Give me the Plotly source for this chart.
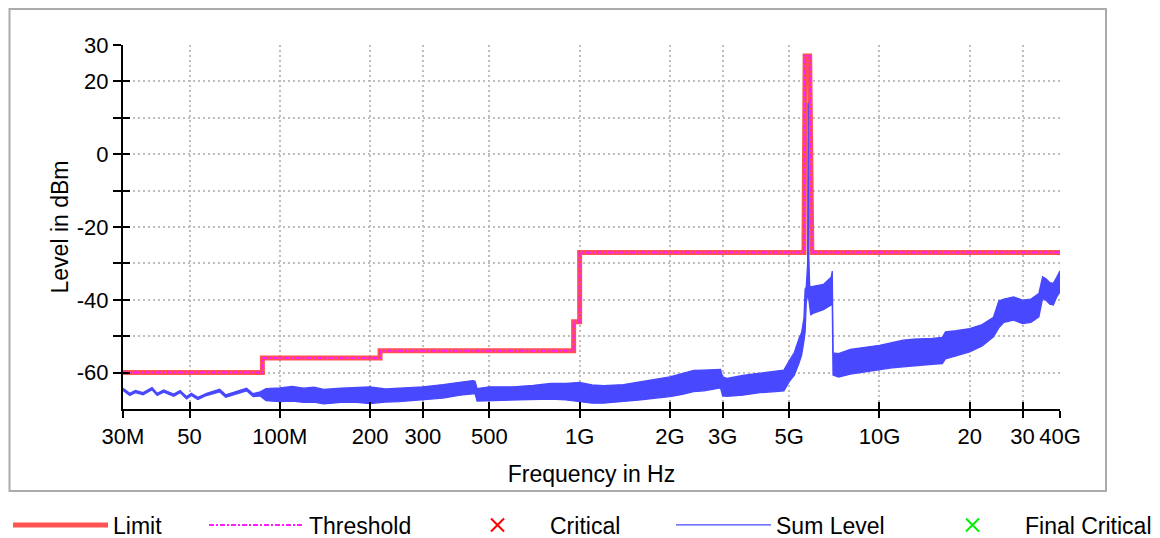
import math
import plotly.graph_objects as go

# ---------------- data ----------------
LIMIT_FREQ_MHZ = [30, 87.5, 87.5, 216, 216, 955, 955, 1000, 1000, 5600, 5650, 5850, 5950, 40000]
LIMIT_DBM = [-60, -60, -56, -56, -54, -54, -46, -46, -27, -27, 27, 27, -27, -27]
THRESHOLD_DBM = [-60, -60, -56, -56, -54, -54, -46, -46, -27, -27, 27, 27, -27, -27]

SUM_FREQ_MHZ = [30, 31.6, 33, 35, 37.5, 39, 41, 44.3, 46.5, 48.9, 50.7, 53.3, 57, 63, 66, 71.6, 77.5,
                81.5, 86, 90, 100, 110, 120, 130, 140, 160, 180, 200, 225, 250, 300, 350, 400, 440,
                448, 455, 500, 600, 700, 800, 900, 1000, 1100, 1200, 1400, 1600, 1800, 2000, 2200,
                2400, 2600, 2800, 2950, 3000, 3100, 3500, 4000, 4500, 4800, 5000, 5200, 5400, 5500,
                5600, 5650, 5700, 5760, 5780, 5800, 5850, 5900, 6000, 6500, 6900, 6960, 7000, 7300,
                8000, 9000, 10000, 11000, 12000, 13000, 14000, 15000, 16200, 16600, 18000, 20000,
                22000, 24000, 25000, 26000, 28000, 30000, 32000, 34000, 35000, 36000, 37000, 38000,
                39000, 40000]
SUM_HI = [-64.3, -65.7, -64.9, -65.5, -64.1, -65.7, -64.8, -65.9, -64.9, -66.6, -65.7, -66.8, -65.7,
          -64.6, -66.1, -65.2, -64.3, -65.8, -65.3, -64.4, -64.2, -63.8, -64.3, -64.0, -64.6, -64.3,
          -64.0, -63.9, -64.5, -64.3, -63.9, -63.3, -62.6, -62.2, -62.4, -64.4, -63.9, -63.9, -63.5,
          -63.0, -63.0, -62.7, -63.4, -63.6, -63.3, -62.6, -61.8, -61.2, -60.3, -59.4, -59.3, -59.2,
          -59.1, -61.2, -61.6, -60.8, -60.1, -59.6, -59.3, -56.8, -54.5, -50.5, -49.0, -45.0, -37.0,
          -36.5, -30.0, 14.2, -26.0, -36.0, -36.5, -36.3, -35.8, -33.8, -32.1, -54.6, -54.8, -53.6,
          -53.0, -52.5, -51.8, -51.1, -50.8, -50.7, -50.6, -50.3, -48.8, -48.5, -47.9, -46.8, -44.8,
          -40.3, -39.8, -39.2, -40.1, -39.8, -38.3, -33.7, -34.3, -35.3, -35.5, -33.8, -32.0]
SUM_LO = [-64.9, -66.3, -65.5, -66.1, -64.7, -66.3, -65.4, -66.5, -65.5, -67.2, -66.3, -67.4, -66.3,
          -65.3, -66.8, -65.9, -65.0, -66.6, -66.4, -67.7, -68.0, -67.8, -68.2, -68.1, -68.6, -68.2,
          -68.2, -68.5, -68.1, -68.0, -67.4, -67.0, -66.2, -65.7, -65.8, -67.8, -67.7, -67.7, -67.5,
          -67.3, -67.5, -68.0, -68.4, -68.4, -68.0, -67.5, -67.0, -66.6, -66.0, -65.2, -65.0, -64.5,
          -64.2, -66.4, -66.5, -66.2, -65.5, -65.2, -65.0, -62.5, -60.7, -57.2, -55.2, -51.2, -48.8,
          -40.7, -38.7, -38.2, -39.2, -42.7, -44.2, -43.7, -42.7, -41.4, -41.2, -60.7, -61.2, -60.4,
          -59.7, -59.2, -58.7, -58.4, -58.1, -57.9, -57.7, -57.5, -56.2, -55.4, -54.3, -52.7, -50.2,
          -47.7, -46.2, -45.6, -46.5, -46.2, -44.7, -39.6, -40.2, -41.2, -41.4, -39.2, -37.8]

X_TICK_HZ = [30e6, 50e6, 100e6, 200e6, 300e6, 500e6, 1e9, 2e9, 3e9, 5e9, 10e9, 20e9, 30e9, 40e9]
X_TICK_TEXT = ["30M", "50", "100M", "200", "300", "500", "1G", "2G", "3G", "5G", "10G", "20", "30", "40G"]
Y_TICK_VALS = [-60, -50, -40, -30, -20, -10, 0, 10, 20, 30]
Y_TICK_TEXT = ["-60", "", "-40", "", "-20", "", "0", "", "20", "30"]

X_MIN_HZ, X_MAX_HZ = 30e6, 40e9
Y_MIN, Y_MAX = -70, 30

# ---------------- style ----------------
FONT = "Liberation Sans, Arial, sans-serif"
RED = "#FF4040"
MAGENTA = "#FF1EFF"
BLUE = "#4848FF"
GRID = "#BDBDBD"

limit_hz = [f * 1e6 for f in LIMIT_FREQ_MHZ]
sum_hz = [f * 1e6 for f in SUM_FREQ_MHZ]

fig = go.Figure()

fig.add_trace(go.Scatter(x=limit_hz, y=LIMIT_DBM, mode="lines", name="Limit",
                         line=dict(color=RED, width=5), opacity=0.9, legend="legend",
                         hoverinfo="skip"))
fig.add_trace(go.Scatter(x=limit_hz, y=THRESHOLD_DBM, mode="lines", name="Threshold",
                         line=dict(color=MAGENTA, width=2, dash="5px,2px,2px,2px"), legend="legend2",
                         hoverinfo="skip"))
fig.add_trace(go.Scatter(x=sum_hz, y=SUM_HI, mode="lines", name="Sum Level",
                         line=dict(color=BLUE, width=1.3), legend="legend4", legendgroup="sum",
                         hoverinfo="skip"))
fig.add_trace(go.Scatter(x=sum_hz, y=SUM_LO, mode="lines", name="Sum Level",
                         line=dict(color=BLUE, width=1.3), fill="tonexty", fillcolor=BLUE,
                         showlegend=False, legend="legend4", legendgroup="sum", hoverinfo="skip"))
fig.add_trace(go.Scatter(x=[None], y=[None], mode="markers", name="Critical",
                         marker=dict(symbol="x-thin", size=13, line=dict(color="#FF0000", width=2)),
                         legend="legend3", xaxis="x2", yaxis="y2"))
fig.add_trace(go.Scatter(x=[None], y=[None], mode="markers", name="Final Critical",
                         marker=dict(symbol="x-thin", size=13, line=dict(color="#00EE00", width=2)),
                         legend="legend5", xaxis="x2", yaxis="y2"))

xr = [math.log10(X_MIN_HZ), math.log10(X_MAX_HZ)]

# page is rendered with an 8px body margin: figure coords = page coords - 8
W, H = 1160, 538
L, T = 115, 37
PW, PH = 937, 364
R = W - L - PW
B = H - T - PH


def px(xp):
    return (xp - L) / PW


def py(yp):
    return (T + PH - yp) / PH


def legend_at(fig_x):
    return dict(orientation="h", xref="container", yref="container",
                x=fig_x / W, xanchor="left", y=1 - 517 / H, yanchor="middle",
                font=dict(size=23), itemwidth=95, bgcolor="rgba(0,0,0,0)")


fig.update_layout(
    width=W, height=H,
    margin=dict(l=L, r=R, t=T, b=B, autoexpand=False),
    paper_bgcolor="white", plot_bgcolor="white",
    font=dict(family=FONT, size=22, color="black"),
    showlegend=True,
    legend=legend_at(-12),
    legend2=legend_at(196),
    legend3=legend_at(437),
    legend4=legend_at(663),
    legend5=legend_at(912),
    xaxis=dict(type="log", range=xr, tickvals=X_TICK_HZ, ticktext=X_TICK_TEXT, automargin=False,
               showgrid=True, gridcolor=GRID, griddash="2px,3px", gridwidth=1.5,
               showline=True, linecolor="black", linewidth=2,
               ticks="outside", ticklen=7, tickwidth=2, tickcolor="black",
               zeroline=False,
               title=dict(text="Frequency in Hz", font=dict(size=23), standoff=17)),
    yaxis=dict(range=[Y_MIN, Y_MAX], tickvals=Y_TICK_VALS, ticktext=Y_TICK_TEXT, automargin=False,
               showgrid=True, gridcolor=GRID, griddash="2px,3px", gridwidth=1.5,
               showline=True, linecolor="black", linewidth=2,
               ticks="outside", ticklen=8, tickwidth=2, tickcolor="black",
               zeroline=False,
               title=dict(text="Level in dBm", font=dict(size=23), standoff=2)),
    xaxis2=dict(type="log", range=xr, overlaying="x", anchor="y", side="bottom", automargin=False,
                tickvals=X_TICK_HZ, showticklabels=False, showgrid=False, zeroline=False,
                ticks="inside", ticklen=7, tickwidth=2, tickcolor="black", showline=False),
    yaxis2=dict(range=[Y_MIN, Y_MAX], overlaying="y", anchor="x", side="left", automargin=False,
                tickvals=Y_TICK_VALS, showticklabels=False, showgrid=False, zeroline=False,
                ticks="inside", ticklen=7, tickwidth=2, tickcolor="black", showline=False),
    shapes=[dict(type="rect", xref="paper", yref="paper",
                 x0=px(1.5), x1=px(1098), y0=py(483), y1=py(1),
                 line=dict(color="#ABABAB", width=2), layer="below")],
)

fig.write_html("out.html")
